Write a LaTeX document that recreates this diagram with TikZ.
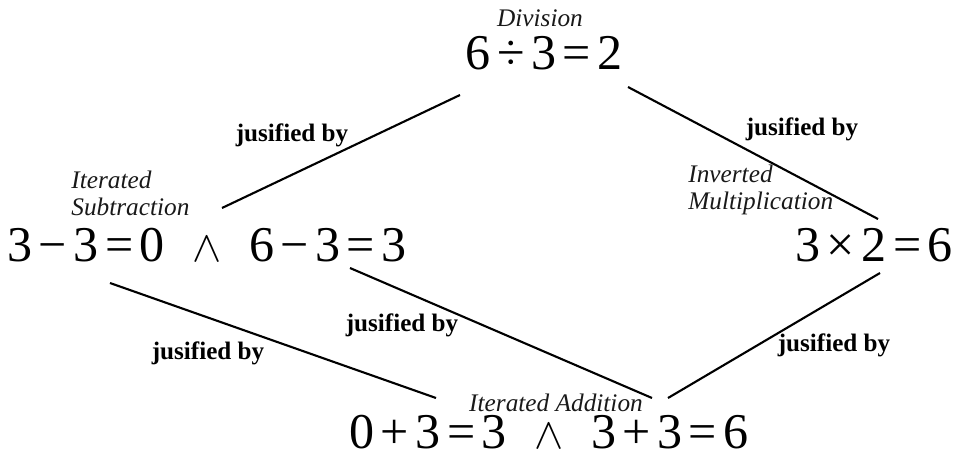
\documentclass[tikz,border=0pt]{standalone}
\usepackage{fontspec}
\setmainfont{Liberation Serif}
\usepackage{tikz}
\usetikzlibrary{positioning}
\newcommand{\opsp}[1]{\kern.13em#1\kern.13em}
\newcommand{\andsp}{\hspace{.55em}$\wedge$\hspace{.55em}}
\tikzset{
  eq/.style={font=\fontsize{28.5}{30}\selectfont, inner sep=0pt},
  tag/.style={font=\fontsize{14.4}{15.5}\selectfont\itshape, text=black!90, inner sep=0pt, align=left},
  just/.style={font=\fontsize{14.3}{15}\selectfont\bfseries, inner sep=0pt},
  link/.style={line width=1.2pt, black},
}
\begin{document}
\begin{tikzpicture}[x=0.02cm, y=-0.02cm]
  \useasboundingbox (0,0) rectangle (956,456);
  % statements
  \node[eq] (div) at (544,53)  {6\opsp{÷}3\opsp{=}2};
  \node[eq] (sub) at (207,245) {3\opsp{−}3\opsp{=}0\andsp 6\opsp{−}3\opsp{=}3};
  \node[eq] (mul) at (874,245) {3\opsp{×}2\opsp{=}6};
  \node[eq] (add) at (549,432) {0\opsp{+}3\opsp{=}3\andsp 3\opsp{+}3\opsp{=}6};
  % operation names
  \node[tag] (divtag) at (540,18) {Division};
  \node[tag, anchor=west] (subtag) at (71,193) {Iterated\\Subtraction};
  \node[tag, anchor=west] (multag) at (688,190) {Inverted\\Multiplication};
  \node[tag] (addtag) at (556,403) {Iterated Addition};
  % line ends
  \coordinate (divL) at (460,95);
  \coordinate (divR) at (628,87);
  \coordinate (subT) at (222,208);
  \coordinate (subL) at (110,283);
  \coordinate (subR) at (350,268);
  \coordinate (mulT) at (878,219);
  \coordinate (mulB) at (880,273);
  \coordinate (addL) at (436,398);
  \coordinate (addM) at (652,398);
  \coordinate (addR) at (668,398);
  % justifications
  \draw[link] (divL) -- (subT);
  \draw[link] (divR) -- (mulT);
  \draw[link] (subL) -- (addL);
  \draw[link] (subR) -- (addM);
  \draw[link] (mulB) -- (addR);
  \node[just] (j1) at (292,135) {jusified by};
  \node[just] (j2) at (802,129) {jusified by};
  \node[just] (j3) at (208,353) {jusified by};
  \node[just] (j4) at (402,325) {jusified by};
  \node[just] (j5) at (834,345) {jusified by};
\end{tikzpicture}
\end{document}
